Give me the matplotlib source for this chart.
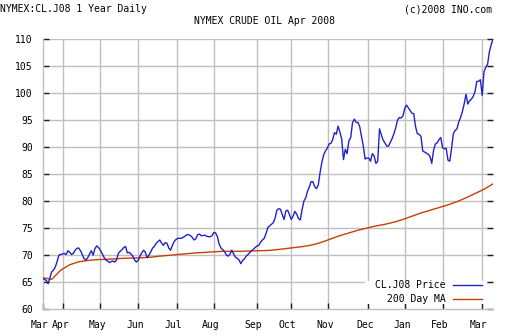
import numpy as np
import matplotlib
matplotlib.use("Agg")
import matplotlib.pyplot as plt
from matplotlib.lines import Line2D
from matplotlib.patches import Rectangle
from matplotlib.transforms import ScaledTranslation

# Daily settlement prices, CL.J08 (NYMEX crude oil, April 2008 contract)
price = [
    65.7, 65.5, 65.3, 64.7, 65.8, 66.9, 67.2, 67.8, 68.8, 70.0,
    70.1, 70.2, 70.3, 70.1, 70.8, 70.5, 70.1, 70.3, 70.9, 71.25,
    71.3, 70.8, 70.1, 69.3, 69.1, 69.5, 70.2, 70.8, 70.0, 71.2,
    71.7, 71.4, 70.9, 70.3, 69.6, 69.1, 68.9, 68.6, 68.8, 68.9,
    68.7, 69.1, 70.3, 70.7, 71.0, 71.4, 71.6, 70.4, 70.5, 70.2,
    69.8, 69.1, 68.7, 69.0, 69.8, 70.4, 70.9, 70.5, 69.5, 70.0,
    70.6, 71.3, 71.6, 72.2, 72.5, 72.8, 72.2, 71.8, 72.3, 72.2,
    71.3, 70.9, 71.8, 72.5, 72.9, 73.1, 73.1, 73.1, 73.3, 73.5,
    73.75, 73.8, 73.6, 73.3, 72.8, 73.0, 73.75, 73.9, 73.6, 73.6,
    73.7, 73.5, 73.4, 73.4, 73.6, 74.2, 74.1, 73.4, 72.0, 71.3,
    71.0, 70.6, 70.0, 69.8, 70.2, 70.9, 70.2, 69.6, 69.4, 69.1,
    68.4, 69.0, 69.3, 69.8, 70.1, 70.5, 70.8, 71.1, 71.4, 71.7,
    71.8, 72.4, 72.8, 73.1, 74.0, 75.1, 75.4, 75.7, 76.0, 76.8,
    78.3, 78.6, 78.5, 77.5, 76.6, 78.2, 78.3, 77.5, 76.6, 77.2,
    78.1, 77.6, 76.8, 76.5, 78.4, 80.0, 80.6, 81.8, 82.6, 83.6,
    83.6, 82.7, 82.3, 83.0, 85.3, 87.2, 88.6, 89.3, 89.8, 90.6,
    90.7, 91.4, 92.7, 92.4, 93.9, 92.8, 91.5, 87.7, 89.6, 88.8,
    91.2, 91.8, 94.5, 95.2, 94.6, 94.6, 93.8, 92.0, 90.2, 87.8,
    88.0, 88.0, 87.4, 88.8, 88.4, 87.0, 87.4, 93.4, 92.3, 91.3,
    90.8, 90.2, 90.2, 90.9, 91.6, 92.5, 93.6, 95.0, 95.5, 95.4,
    95.8, 97.2, 97.8, 97.3, 96.8, 96.3, 96.2, 93.8, 92.5, 92.4,
    92.0, 89.3, 89.1, 88.9, 88.7, 88.3, 87.0, 89.4, 90.6, 90.8,
    91.4, 91.8, 89.9, 89.7, 89.8, 87.6, 87.4, 89.8, 92.5, 93.1,
    93.4, 94.7, 95.5, 96.6, 98.0, 99.8, 98.0, 98.6, 98.9, 99.4,
    100.3, 102.2, 102.2, 102.5, 99.6, 104.0, 104.8, 105.4, 107.7, 109.0,
    110.0,
]

# 200-day moving average, one value every 5 sessions
ma_step = 5
ma200 = [
    65.8, 65.5, 67.2, 68.2, 68.75, 69.0, 69.15, 69.2, 69.3, 69.4,
    69.45, 69.5, 69.6, 69.8, 69.95, 70.1, 70.25, 70.4, 70.5, 70.6,
    70.7, 70.7, 70.7, 70.75, 70.8, 70.85, 71.0, 71.2, 71.4, 71.6,
    71.9, 72.4, 73.0, 73.6, 74.1, 74.6, 75.0, 75.4, 75.7, 76.1,
    76.6, 77.2, 77.8, 78.3, 78.8, 79.3, 79.9, 80.6, 81.4, 82.2,
    83.2,
]

month_labels = ["Mar", "Apr", "May", "Jun", "Jul", "Aug", "Sep",
                "Oct", "Nov", "Dec", "Jan", "Feb", "Mar"]
month_pos = [0, 11.4, 31.8, 52.9, 74.4, 95.1, 118.8, 137.7,
             158.6, 180.8, 201.3, 222.1, 243.8]

y_ticks = [60, 65, 70, 75, 80, 85, 90, 95, 100, 105, 110]

BLUE = "#2222c8"
ORANGE = "#c84000"
GRID = "#c0c0c0"
FONT = "DejaVu Sans Mono"
FS = 7

plt.rcParams["font.family"] = FONT
plt.rcParams["font.size"] = FS

W, H = 512, 336
L, R, T, B = 42.7, 493.0, 39.3, 309.0
fig = plt.figure(figsize=(W / 100, H / 100), dpi=100)
ax = fig.add_axes([L / W, 1 - B / H, (R - L) / W, (B - T) / H])


def ax_frac(px, py):
    """Pixel position on the canvas -> axes fraction."""
    return (px - L) / (R - L), (B - py) / (B - T)


x = np.arange(len(price))
x_ma = np.arange(len(ma200)) * ma_step

ax.plot(x_ma, ma200, color=ORANGE, lw=1.0, zorder=3)
ax.plot(x, price, color=BLUE, lw=1.0, zorder=4)

ax.set_xlim(0, len(price) - 1)
ax.set_ylim(60, 110)

# grid: horizontal every 5, vertical at month starts
for yv in y_ticks[1:]:
    ax.axhline(yv, color=GRID, lw=1.0, zorder=1)
for xv in month_pos[1:]:
    ax.axvline(xv, color=GRID, lw=1.0, zorder=1)

for side in ("top", "right"):
    ax.spines[side].set_visible(False)
for side in ("left", "bottom"):
    ax.spines[side].set_color(GRID)
    ax.spines[side].set_linewidth(1.0)

ax.set_yticks(y_ticks)
ax.set_yticklabels([str(v) for v in y_ticks])
ax.set_xticks(month_pos)
ax.set_xticklabels(month_labels)
ax.tick_params(axis="y", direction="in", length=4, width=1, color="#202020",
               pad=7, labelsize=FS, right=True)
ax.tick_params(axis="x", direction="in", length=4, width=1, color="#202020",
               pad=8, labelsize=FS)

shift = ScaledTranslation(-3 / 100, 0, fig.dpi_scale_trans)
for lab in ax.get_xticklabels():
    lab.set_transform(lab.get_transform() + shift)

# white panel behind the legend, hiding the grid there
x0, y0 = ax_frac(365, 304)
x1, y1 = ax_frac(487, 281)
ax.add_patch(Rectangle((x0, y0), x1 - x0, y1 - y0, transform=ax.transAxes,
                       facecolor="white", edgecolor="none", zorder=2))

handles = [Line2D([], [], color=BLUE, lw=1.0),
           Line2D([], [], color=ORANGE, lw=1.0)]
leg = ax.legend(handles, ["CL.J08 Price", "200 Day MA"], loc="upper right",
                bbox_to_anchor=ax_frac(481.7, 280.5), markerfirst=False,
                frameon=False, handlelength=3.0, handletextpad=0.7,
                labelspacing=0.38, borderpad=0.0, borderaxespad=0.0,
                prop={"family": FONT, "size": FS})
leg.set_zorder(5)

fig.text(0 / W, 1 - 9.5 / H, "NYMEX:CL.J08 1 Year Daily", ha="left",
         va="center", fontsize=FS)
fig.text(264 / W, 1 - 21.5 / H, "NYMEX CRUDE OIL Apr 2008", ha="center",
         va="center", fontsize=FS)
fig.text(492 / W, 1 - 9.5 / H, "(c)2008 INO.com", ha="right",
         va="center", fontsize=FS)

fig.savefig("out.png", dpi=100)
